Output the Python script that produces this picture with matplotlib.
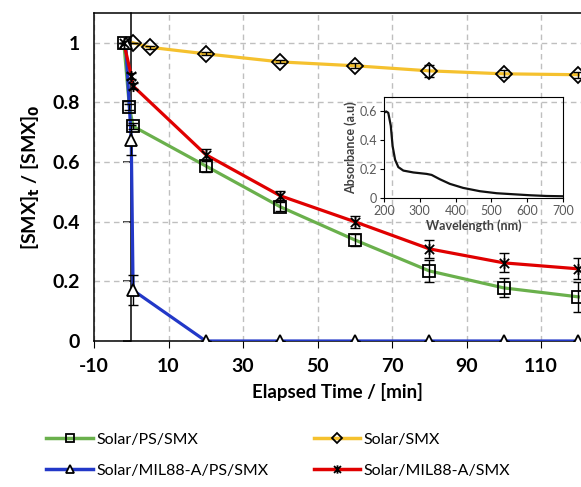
import numpy as np
import matplotlib
matplotlib.use('Agg')
import matplotlib.pyplot as plt
from matplotlib.path import Path
from matplotlib.lines import Line2D

plt.rcParams['font.family'] = ['Lato', 'DejaVu Sans']
plt.rcParams['axes.unicode_minus'] = False

# degradation data, time in minutes
t_ps = [-2, -0.5, 0.5, 20, 40, 60, 80, 100, 120]
c_ps = [1.0, 0.785, 0.72, 0.587, 0.45, 0.339, 0.235, 0.178, 0.148]
e_ps = [0, 0.01, 0.01, 0.02, 0.015, 0.02, 0.037, 0.032, 0.05]

t_sol = [0.5, 5, 20, 40, 60, 80, 100, 120]
c_sol = [1.0, 0.985, 0.963, 0.936, 0.923, 0.906, 0.896, 0.893]
e_sol = [0, 0.005, 0.005, 0.005, 0.008, 0.02, 0.012, 0.01]

t_mps = [-1.5, 0, 0.5, 20, 40, 60, 80, 100, 120]
c_mps = [1.0, 0.675, 0.17, 0, 0, 0, 0, 0, 0]
e_mps = [0, 0.05, 0.05, 0, 0, 0, 0, 0, 0]

t_m = [-2, 0, 0.5, 20, 40, 60, 80, 100, 120]
c_m = [1.0, 0.89, 0.855, 0.625, 0.487, 0.40, 0.309, 0.262, 0.242]
e_m = [0, 0.01, 0.01, 0.02, 0.015, 0.02, 0.03, 0.032, 0.035]

# inset UV-vis spectrum
wl = [200, 206, 212, 219, 224, 231, 240, 254, 282, 319, 333, 356, 384, 421, 468, 515, 561, 608, 654, 700]
absb = [0.59, 0.60, 0.59, 0.50, 0.36, 0.265, 0.214, 0.19, 0.177, 0.167, 0.16, 0.13, 0.098, 0.07, 0.047, 0.033, 0.026, 0.019, 0.014, 0.012]

green = '#6AB04C'
yellow = '#F5C12E'
blue = '#2238C8'
red = '#E00000'

star = Path([(-1, -1), (1, 1), (-1, 1), (1, -1), (0, -1.2), (0, 1.2)],
            [Path.MOVETO, Path.LINETO, Path.MOVETO, Path.LINETO, Path.MOVETO, Path.LINETO])

fig = plt.figure(figsize=(5.81, 4.87), dpi=100)
ax = fig.add_axes([94/581, 1-341/487, 1-94/581, (341-13)/487])

series = [
    (t_ps, c_ps, e_ps, green, 's', 'none', 8.5),
    (t_sol, c_sol, e_sol, yellow, 'D', 'none', 8),
    (t_mps, c_mps, e_mps, blue, '^', 'white', 9),
    (t_m, c_m, e_m, red, star, 'none', 8),
]
for t, c, e, col, mk, fc, ms in series:
    ax.plot(t, c, color=col, lw=2.3, zorder=3)
    ax.errorbar(t, c, yerr=e, fmt='none', ecolor='black', elinewidth=1, capsize=3.5, capthick=1, zorder=4)
    ax.plot(t, c, ls='none', marker=mk, ms=ms, mfc=fc, mec='black', mew=1.3, zorder=5)

ax.set_xlim(-10, 120.7)
ax.set_ylim(0, 1.1)
ax.set_xticks(np.arange(-10, 121, 20))
ax.set_yticks([0, 0.2, 0.4, 0.6, 0.8, 1.0])
ax.set_yticklabels(['0', '0.2', '0.4', '0.6', '0.8', '1'])
ax.grid(True, color='#BFBFBF', ls=(0, (4, 3)), lw=1)
ax.set_axisbelow(True)
ax.tick_params(axis='y', length=0, labelsize=14, pad=10)
ax.tick_params(axis='x', direction='out', length=5, labelsize=14, pad=7)
for lab in ax.get_xticklabels() + ax.get_yticklabels():
    lab.set_fontweight('bold')
ax.spines['right'].set_visible(False)
for s in ['left', 'top', 'bottom']:
    ax.spines[s].set_linewidth(1.1)

# vertical axis at t = 0
sec = ax.secondary_yaxis(10/130.7)
sec.set_yticks([0, 0.2, 0.4, 0.6, 0.8, 1.0])
sec.set_yticklabels([])
sec.tick_params(length=6, width=1.1, direction='out')
sec.spines['left'].set_linewidth(1.1)

ax.set_xlabel('Elapsed Time / [min]', fontsize=13.5, fontweight='bold', labelpad=6)
ax.set_ylabel('[SMX]$_\\mathbf{t}$ / [SMX]$_\\mathbf{0}$', fontsize=14, fontweight='bold', labelpad=8)

# inset
ins = fig.add_axes([384/581, 1-198/487, (563-384)/581, (198-97)/487])
ins.patch.set_alpha(0)
ins.plot(wl, absb, color='#111111', lw=1.6)
ins.set_xlim(200, 700)
ins.set_ylim(0, 0.7)
ins.set_xticks([200, 300, 400, 500, 600, 700])
ins.set_yticks([0, 0.2, 0.4, 0.6])
ins.set_yticklabels(['0', '0.2', '0.4', '0.6'])
ins.tick_params(labelsize=9, labelcolor='#595959', length=3, pad=2)
ins.set_xlabel('Wavelength (nm)', fontsize=9, fontweight='bold', color='#404040', labelpad=2)
ins.set_ylabel('Absorbance (a.u)', fontsize=9, fontweight='bold', color='#404040', labelpad=2)

# legend
handles = [
    Line2D([], [], color=green, lw=2.5, marker='s', ms=6, mfc='none', mec='black', mew=1.3),
    Line2D([], [], color=blue, lw=2.5, marker='^', ms=6, mfc='white', mec='black', mew=1.3),
    Line2D([], [], color=yellow, lw=2.5, marker='D', ms=5, mfc='none', mec='black', mew=1.3),
    Line2D([], [], color=red, lw=2.5, marker=star, ms=6, mfc='none', mec='black', mew=1.3),
]
labels = ['Solar/PS/SMX', 'Solar/MIL88-A/PS/SMX', 'Solar/SMX', 'Solar/MIL88-A/SMX']
fig.legend(handles, labels, ncol=2, loc='upper left', bbox_to_anchor=(32/581, 1-418/487),
           frameon=False, fontsize=11.5, handlelength=2.9, handletextpad=0.25,
           columnspacing=2.8, labelspacing=1.05)

fig.savefig('out.png', dpi=100)
